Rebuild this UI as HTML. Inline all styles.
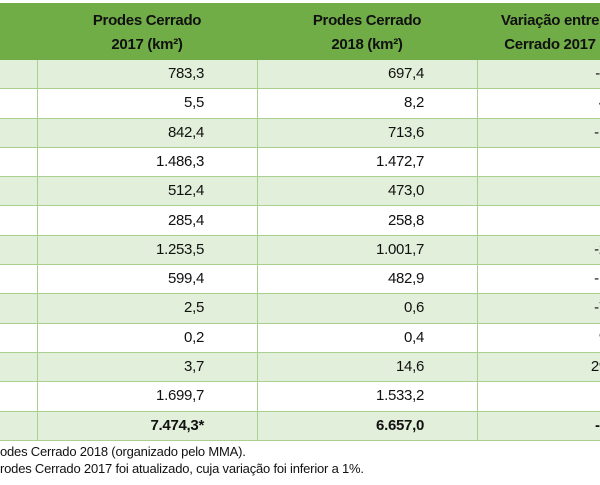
<!DOCTYPE html>
<html><head><style>
body{margin:0;width:600px;height:485px;overflow:hidden;background:#fff;font-family:"Liberation Sans",sans-serif;}
#w{position:absolute;left:0;top:0;width:600px;height:485px;overflow:hidden}
.hdr{position:absolute;left:0;top:3px;width:600px;height:57px;background:#70ad47}
.h{position:absolute;top:9px;text-align:center;font-weight:bold;font-size:15px;line-height:24px;color:#111;letter-spacing:-0.3px;white-space:nowrap}
.row{position:absolute;left:0;width:600px;border-bottom:1px solid #a9d08e;box-sizing:border-box}
.v{position:absolute;width:1px;height:381px;background:#a9d08e}
.n{position:absolute;font-size:15px;line-height:28px;text-align:right;color:#111;letter-spacing:-0.3px;white-space:nowrap}
.f{position:absolute;left:0;font-size:13px;color:#111;white-space:nowrap;letter-spacing:-0.2px}
</style></head><body><div id="w">
<div class="hdr"></div>
<div class="h" style="left:37px;width:220px">Prodes Cerrado<br>2017 (km²)</div>
<div class="h" style="left:257px;width:220px">Prodes Cerrado<br>2018 (km²)</div>
<div class="h" style="left:440px;width:220px">Variação entre<br>Cerrado 2017</div>
<div id="rows"></div>
<div class="v" style="left:37px;top:60px"></div>
<div class="v" style="left:257px;top:60px"></div>
<div class="v" style="left:477px;top:60px"></div>
<div class="f" style="top:444px">odes Cerrado 2018 (organizado pelo MMA).</div>
<div class="f" style="top:461px">rodes Cerrado 2017 foi atualizado, cuja variação foi inferior a 1%.</div>
</div>
<script>
var d=[["783,3","697,4","-11%"],["5,5","8,2","49%"],["842,4","713,6","-15%"],["1.486,3","1.472,7","-1%"],["512,4","473,0","-8%"],["285,4","258,8","-9%"],["1.253,5","1.001,7","-20%"],["599,4","482,9","-19%"],["2,5","0,6","-76%"],["0,2","0,4","99%"],["3,7","14,6","295%"],["1.699,7","1.533,2","-9%"],["7.474,3*","6.657,0","-11%"]];
var h="";
for(var i=0;i<d.length;i++){var t=60+i*29.3;var bg=i%2==0?"#e2efda":"#fff";var b=i==12?"font-weight:bold;":"";
h+='<div class="row" style="top:'+t+'px;height:29.3px;background:'+bg+'"></div>';
h+='<div class="n" style="'+b+'top:'+t+'px;left:37px;width:167px">'+d[i][0]+'</div>';
h+='<div class="n" style="'+b+'top:'+t+'px;left:257px;width:167px">'+d[i][1]+'</div>';
h+='<div class="n" style="'+b+'top:'+t+'px;left:480px;width:148px">'+d[i][2]+'</div>';}
document.getElementById("rows").innerHTML=h;
</script>
</body></html>
